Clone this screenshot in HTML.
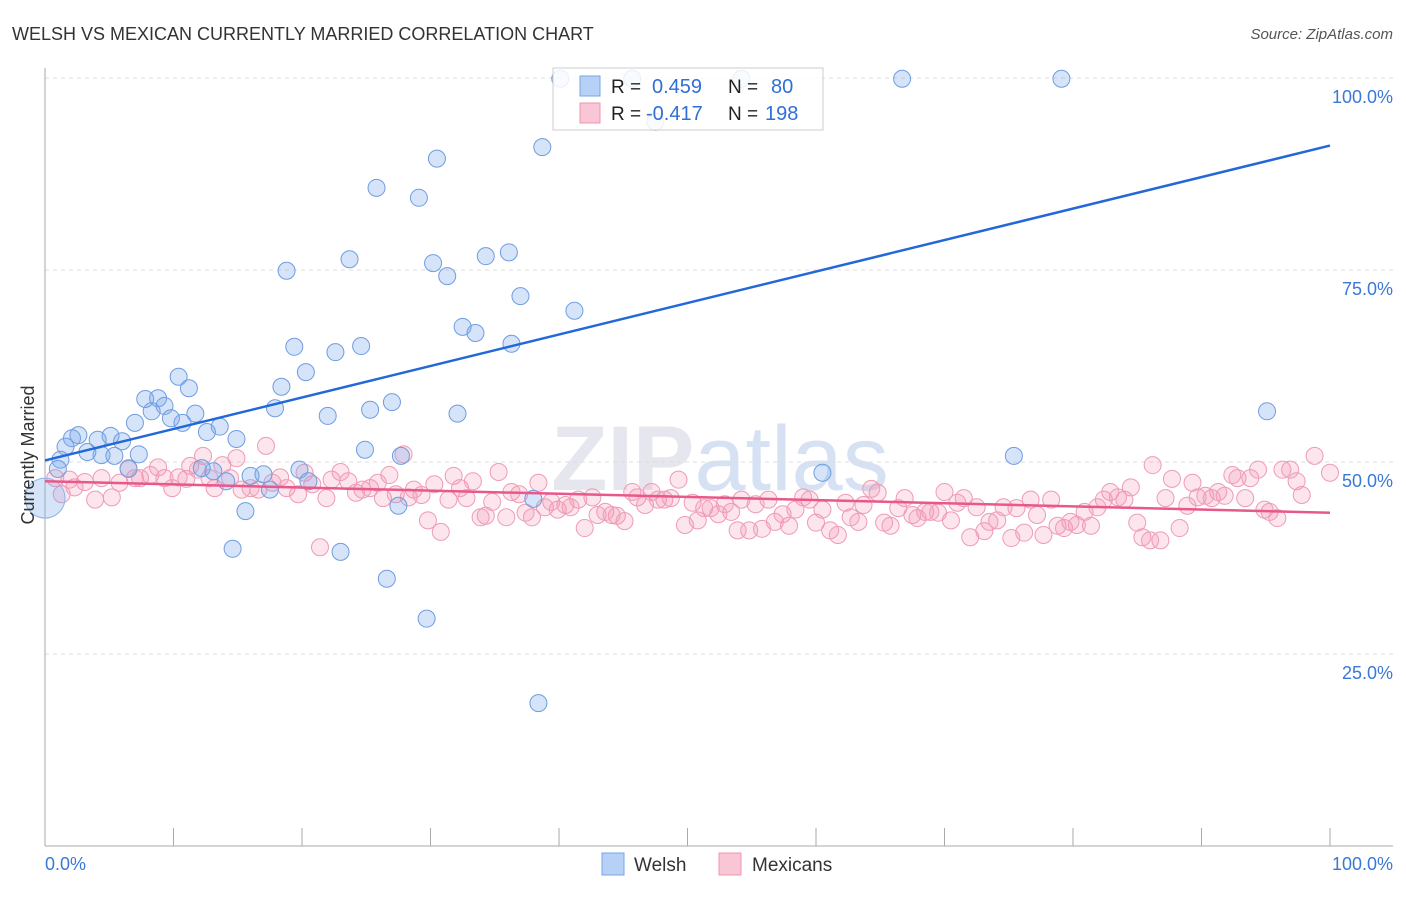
<!DOCTYPE html>
<html><head><meta charset="utf-8"><style>
body{margin:0;background:#fff;font-family:"Liberation Sans",sans-serif;}
svg text{font-family:"Liberation Sans",sans-serif;}
</style></head><body>
<svg id="chart" width="1406" height="892" viewBox="0 0 1406 892" xmlns="http://www.w3.org/2000/svg">
<text x="12" y="40" font-size="18" fill="#333">WELSH VS MEXICAN CURRENTLY MARRIED CORRELATION CHART</text>
<text x="1393" y="39" font-size="15" fill="#555" font-style="italic" text-anchor="end">Source: ZipAtlas.com</text>
<text x="720" y="490" font-size="92" fill="#e6e6ee" text-anchor="middle" font-weight="bold">ZIP<tspan fill="#d6e2f4" font-weight="normal">atlas</tspan></text>
<g id="grid"></g>
<g id="axes"></g>
<g id="pts-mex"></g>
<g id="pts-wel"></g>
<g id="trends"></g>
<text transform="translate(34,455) rotate(-90)" font-size="18" fill="#333" text-anchor="middle">Currently Married</text>
<g>
<rect x="553" y="68" width="270" height="62" fill="#fff" fill-opacity="0.85" stroke="#ccc"/>
<rect x="580" y="76" width="20" height="20" fill="#b7d0f5" stroke="#7aa5e5"/>
<rect x="580" y="103" width="20" height="20" fill="#f8c6d5" stroke="#ee96b1"/>
<text x="611" y="93" font-size="19" fill="#222">R = </text><text x="652" y="93" font-size="20" fill="#2f6fd6">0.459</text>
<text x="728" y="93" font-size="19" fill="#222">N = </text><text x="771" y="93" font-size="20" fill="#2f6fd6">80</text>
<text x="611" y="120" font-size="19" fill="#222">R = </text><text x="646" y="120" font-size="20" fill="#2f6fd6">-0.417</text>
<text x="728" y="120" font-size="19" fill="#222">N = </text><text x="765" y="120" font-size="20" fill="#2f6fd6">198</text>
</g>
<g>
<rect x="602" y="853" width="22" height="22" fill="#b7d0f5" stroke="#7aa5e5"/>
<text x="634" y="871" font-size="19" fill="#333">Welsh</text>
<rect x="719" y="853" width="22" height="22" fill="#f8c6d5" stroke="#ee96b1"/>
<text x="752" y="871" font-size="19" fill="#333">Mexicans</text>
</g>
</svg>
<script>
const yTicks=[25,50,75,100];
const yTickLabels=["25.0%","50.0%","75.0%","100.0%"];
const xEndLabels=["0.0%","100.0%"];
const welshX=[40.1,45.7,54.2,66.7,79.1,47.5,38.7,30.5,25.8,29.1,18.8,23.7,30.2,31.3,34.3,36.1,37.0,41.2,32.5,33.5,36.3,19.4,22.6,24.6,20.3,18.4,10.4,11.2,7.8,8.8,9.3,8.3,9.8,11.7,10.7,17.9,22.0,25.3,27.0,32.1,7.0,13.6,12.6,14.9,2.6,2.1,4.1,6.0,5.1,1.6,1.2,3.3,4.4,5.4,7.3,6.5,12.2,13.1,16.0,17.0,19.8,20.5,14.1,17.5,24.9,27.7,38.0,27.5,15.6,14.6,23.0,26.6,29.7,38.4,60.5,75.4,95.1,1.0];
const welshY=[99.9,99.9,99.9,99.9,99.9,94.3,91.0,89.5,85.7,84.4,74.9,76.4,75.9,74.2,76.8,77.3,71.6,69.7,67.6,66.8,65.4,65.0,64.3,65.1,61.7,59.8,61.1,59.6,58.2,58.3,57.3,56.6,55.7,56.3,55.1,57.0,56.0,56.8,57.8,56.3,55.1,54.6,53.9,53.0,53.5,53.1,52.9,52.7,53.4,52.0,50.3,51.3,50.9,50.8,51.0,49.1,49.2,48.8,48.2,48.4,49.0,47.5,47.5,46.4,51.6,50.8,45.2,44.3,43.6,38.7,38.3,34.8,29.6,18.6,48.6,50.8,56.6,49.1];
const mexX=[0.8,1.3,2.3,1.9,3.1,3.9,4.4,5.2,5.8,6.5,7.0,7.4,8.2,8.8,9.3,9.9,10.4,11.0,11.3,11.9,12.3,12.8,13.2,13.8,14.4,14.9,15.3,16.0,16.6,17.2,17.7,18.3,18.8,19.7,20.2,20.8,21.4,21.9,22.3,23.0,23.6,24.2,24.7,25.3,25.9,26.3,26.8,27.3,27.9,28.3,28.7,29.3,29.8,30.3,30.8,31.4,31.8,32.3,32.8,33.3,33.9,34.3,34.8,35.3,35.9,36.3,36.9,37.4,37.9,38.4,38.9,39.4,39.9,40.5,40.9,41.5,42.0,42.6,43.0,43.6,44.1,44.5,45.1,45.7,46.1,46.7,47.2,47.7,48.2,48.7,49.3,49.8,50.4,50.8,51.3,51.8,52.4,52.9,53.4,53.9,54.2,54.8,55.3,55.8,56.3,56.8,57.4,57.9,58.4,59.0,59.5,60.0,60.5,61.1,61.7,62.3,62.7,63.3,63.7,64.3,64.8,65.3,65.8,66.4,66.9,67.5,67.9,68.5,68.9,69.5,70.0,70.5,71.0,71.5,72.0,72.5,73.1,73.5,74.1,74.6,75.2,75.6,76.2,76.7,77.2,77.7,78.3,78.8,79.3,79.8,80.3,80.9,81.4,81.9,82.4,82.9,83.5,84.0,84.5,85.0,85.4,86.0,86.2,86.8,87.2,87.7,88.3,88.9,89.3,89.7,90.3,90.8,91.3,91.8,92.4,92.8,93.4,93.8,94.4,94.9,95.3,95.9,96.3,96.9,97.4,97.8,98.8,100];
const mexY=[47.9,45.8,46.7,47.7,47.4,45.1,47.9,45.4,47.3,49.2,47.9,47.9,48.3,49.3,47.9,46.6,48.0,47.8,49.5,49.0,50.8,47.9,46.6,49.6,47.9,50.5,46.4,46.6,46.4,52.1,47.3,48.0,46.6,45.8,48.6,47.1,38.9,45.3,47.7,48.7,47.5,46.0,46.4,46.6,47.3,45.3,48.3,45.8,51.0,45.4,46.4,45.7,42.4,47.1,40.9,45.1,48.2,46.6,45.3,47.5,42.8,43.0,44.8,48.7,42.8,46.1,45.8,43.4,42.8,47.3,44.1,44.8,43.8,44.4,44.1,45.1,41.4,45.4,43.1,43.5,43.1,43.0,42.3,46.1,45.4,44.4,46.1,45.1,45.1,45.3,47.7,41.8,44.7,42.4,44.0,44.0,43.2,44.5,43.5,41.1,45.1,41.1,44.5,41.3,45.1,42.2,43.2,41.7,43.8,45.4,45.1,42.1,43.8,41.1,40.5,44.7,42.8,42.2,44.4,46.5,46.0,42.1,41.7,44.0,45.3,43.1,42.7,43.5,43.5,43.4,46.1,42.4,44.7,45.3,40.2,44.1,41.0,42.2,42.4,44.1,40.1,44.0,40.8,45.1,43.1,40.5,45.1,41.7,41.4,42.2,41.8,43.5,41.7,44.1,45.1,46.1,45.4,45.1,46.7,42.1,40.2,39.8,49.6,39.8,45.3,47.8,41.4,44.3,47.3,45.4,45.6,45.3,46.1,45.6,48.3,47.9,45.3,47.9,49.0,43.8,43.5,42.7,49.0,49.0,47.5,45.7,50.8,48.6];
const trendWelsh=[50.2,91.2];
const trendMex=[47.5,43.4];
const X0=45,X1=1330,Y0=846,Y100=78;
function sx(v){return X0+(X1-X0)*v/100;}
function sy(v){return Y0-(Y0-Y100)*v/100;}
const NS="http://www.w3.org/2000/svg";
function mk(tag,attrs,parent){const e=document.createElementNS(NS,tag);for(const k in attrs)e.setAttribute(k,attrs[k]);parent.appendChild(e);return e;}
const grid=document.getElementById('grid'),axes=document.getElementById('axes');
yTicks.forEach((t,i)=>{
  const l=mk('line',{x1:45,x2:1393,y1:sy(t),y2:sy(t),stroke:'#ddd','stroke-dasharray':'4,4'},grid);
  
  
  const tx=mk('text',{x:1393,y:sy(t)+25,'font-size':18,fill:'#3a78d8','text-anchor':'end'},axes);
  tx.textContent=yTickLabels[i];
  
  
});
mk('line',{x1:45,x2:45,y1:68,y2:846,stroke:'#aaa'},axes);
mk('line',{x1:45,x2:1393,y1:846,y2:846,stroke:'#aaa'},axes);
for(let k=1;k<=10;k++){const x=sx(k*10);const t=mk('line',{x1:x,x2:x,y1:828,y2:846,stroke:'#aaa'},axes);
  
  }
const xl0=mk('text',{x:45,y:870,'font-size':18,fill:'#3a78d8'},axes);xl0.textContent=xEndLabels[0];


const xl1=mk('text',{x:1393,y:870,'font-size':18,fill:'#3a78d8','text-anchor':'end'},axes);xl1.textContent=xEndLabels[1];


const gm=document.getElementById('pts-mex');
mexX.forEach((v,i)=>{const c=mk('circle',{cx:sx(v),cy:sy(mexY[i]),r:8.5,fill:'rgba(244,150,178,0.25)',stroke:'#ef9bb5','stroke-width':1},gm);
  
  });
const gw=document.getElementById('pts-wel');
welshX.forEach((v,i)=>{const c=mk('circle',{cx:sx(v),cy:sy(welshY[i]),r:8.5,fill:'rgba(120,165,235,0.3)',stroke:'#6f9de0','stroke-width':1},gw);
  
  });
const big=mk('circle',{cx:sx(0),cy:sy(45.3),r:20,fill:'rgba(120,165,235,0.3)',stroke:'#8fb3e8'},gw);


const tr=document.getElementById('trends');
const lw=mk('line',{x1:sx(0),y1:sy(trendWelsh[0]),x2:sx(100),y2:sy(trendWelsh[1]),stroke:'#2268d8','stroke-width':2.5},tr);


const lm=mk('line',{x1:sx(0),y1:sy(trendMex[0]),x2:sx(100),y2:sy(trendMex[1]),stroke:'#e8588a','stroke-width':2.5},tr);


</script>
</body></html>
